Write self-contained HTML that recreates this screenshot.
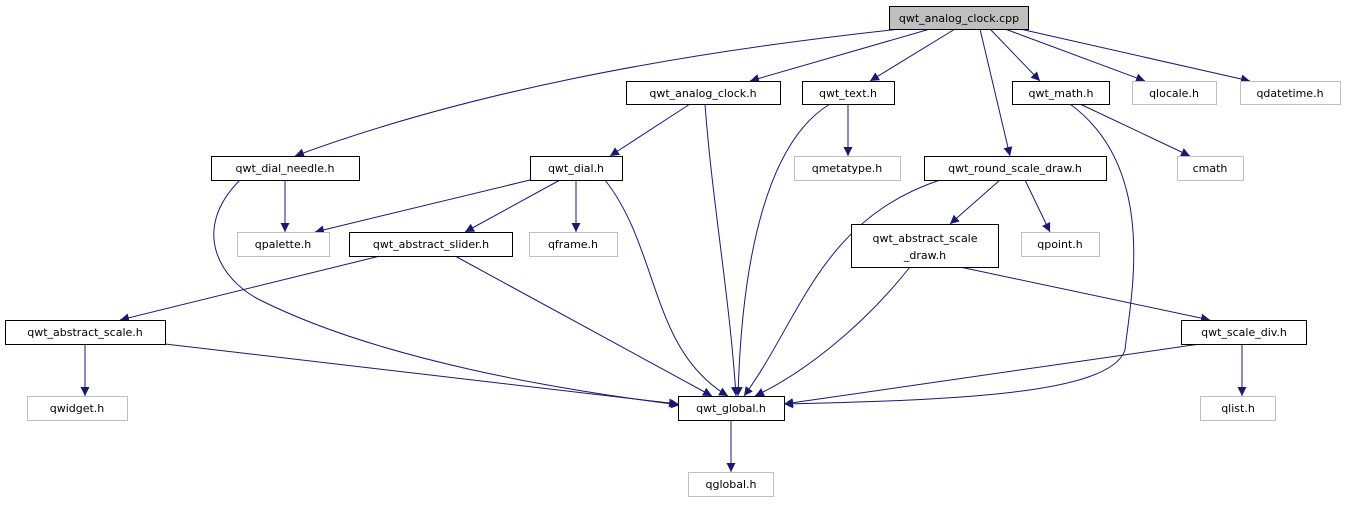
<!DOCTYPE html>
<html><head><meta charset="utf-8"><style>
body{margin:0;background:#fff;width:1347px;height:500px;overflow:hidden}
svg text{font-family:"DejaVu Sans","Liberation Sans",sans-serif;font-size:11px;text-anchor:middle;fill:#000}
</style></head><body>
<svg width="1347" height="500" viewBox="0 0 1347 500">
<defs><marker id="a" viewBox="0 0 10 10" refX="10" refY="5" markerWidth="9" markerHeight="9" markerUnits="userSpaceOnUse" orient="auto"><path d="M0,0L10,5L0,10z" fill="#191970"/></marker></defs>
<g fill="none" stroke="#191970" stroke-width="1" marker-end="url(#a)">
<path d="M900,29 C660,55 460,95 295,156"/>
<path d="M930,29 L750,81"/>
<path d="M955,29 L870,81"/>
<path d="M980,29 L1010,156"/>
<path d="M990,29 L1040,81"/>
<path d="M1005,29 L1145,81"/>
<path d="M1020,29 L1250,81"/>
<path d="M690,104 L610,156"/>
<path d="M705,104 C712,200 730,300 736,396"/>
<path d="M848,104 L848,156"/>
<path d="M830,104 C770,140 742,250 738,396"/>
<path d="M1080,104 L1190,156"/>
<path d="M1070,104 C1160,170 1130,300 1125,350 C1110,395 950,400 784,404"/>
<path d="M285,180 L285,232"/>
<path d="M240,180 C190,230 220,280 260,300 C380,360 560,390 680,405"/>
<path d="M530,180 L315,232"/>
<path d="M560,180 L465,232"/>
<path d="M576,180 L576,232"/>
<path d="M605,180 C660,250 650,350 728,396"/>
<path d="M1000,180 L950,224"/>
<path d="M1025,180 L1050,232"/>
<path d="M940,180 C820,220 800,320 744,396"/>
<path d="M380,256 L120,320"/>
<path d="M455,256 L712,396"/>
<path d="M960,267 L1210,320"/>
<path d="M910,267 C860,330 800,375 755,396"/>
<path d="M85,344 L85,396"/>
<path d="M165,344 L678,404"/>
<path d="M1242,344 L1242,396"/>
<path d="M1200,344 L784,404"/>
<path d="M731,420 L731,472"/>
</g>
<g stroke-width="1">
<rect x="889.5" y="6.5" width="139" height="23" fill="#bfbfbf" stroke="#000"/><text x="959" y="22">qwt_analog_clock.cpp</text>
<rect x="626.5" y="81.5" width="154" height="23" fill="#fff" stroke="#000"/><text x="703" y="97">qwt_analog_clock.h</text>
<rect x="802.5" y="81.5" width="92" height="23" fill="#fff" stroke="#000"/><text x="848" y="97">qwt_text.h</text>
<rect x="1012.5" y="81.5" width="97" height="23" fill="#fff" stroke="#000"/><text x="1061" y="97">qwt_math.h</text>
<rect x="1132.5" y="81.5" width="84" height="23" fill="#fff" stroke="#bfbfbf"/><text x="1174" y="97">qlocale.h</text>
<rect x="1240.5" y="81.5" width="100" height="23" fill="#fff" stroke="#bfbfbf"/><text x="1290" y="97">qdatetime.h</text>
<rect x="211.5" y="156.5" width="148" height="24" fill="#fff" stroke="#000"/><text x="285" y="172">qwt_dial_needle.h</text>
<rect x="530.5" y="156.5" width="92" height="24" fill="#fff" stroke="#000"/><text x="576" y="172">qwt_dial.h</text>
<rect x="794.5" y="156.5" width="106" height="24" fill="#fff" stroke="#bfbfbf"/><text x="847" y="172">qmetatype.h</text>
<rect x="924.5" y="156.5" width="182" height="24" fill="#fff" stroke="#000"/><text x="1015" y="172">qwt_round_scale_draw.h</text>
<rect x="1177.5" y="156.5" width="66" height="24" fill="#fff" stroke="#bfbfbf"/><text x="1210" y="172">cmath</text>
<rect x="237.5" y="232.5" width="92" height="24" fill="#fff" stroke="#bfbfbf"/><text x="283" y="248">qpalette.h</text>
<rect x="349.5" y="232.5" width="163" height="24" fill="#fff" stroke="#000"/><text x="431" y="248">qwt_abstract_slider.h</text>
<rect x="529.5" y="232.5" width="88" height="24" fill="#fff" stroke="#bfbfbf"/><text x="573" y="248">qframe.h</text>
<rect x="851.5" y="224.5" width="147" height="43" fill="#fff" stroke="#000"/><text x="925" y="242">qwt_abstract_scale</text><text x="925" y="259">_draw.h</text>
<rect x="1021.5" y="232.5" width="78" height="24" fill="#fff" stroke="#bfbfbf"/><text x="1060" y="248">qpoint.h</text>
<rect x="5.5" y="320.5" width="160" height="24" fill="#fff" stroke="#000"/><text x="85" y="336">qwt_abstract_scale.h</text>
<rect x="1181.5" y="320.5" width="125" height="24" fill="#fff" stroke="#000"/><text x="1244" y="336">qwt_scale_div.h</text>
<rect x="27.5" y="396.5" width="100" height="24" fill="#fff" stroke="#bfbfbf"/><text x="77" y="412">qwidget.h</text>
<rect x="678.5" y="396.5" width="106" height="24" fill="#fff" stroke="#000"/><text x="731" y="412">qwt_global.h</text>
<rect x="1200.5" y="396.5" width="75" height="24" fill="#fff" stroke="#bfbfbf"/><text x="1238" y="412">qlist.h</text>
<rect x="688.5" y="472.5" width="85" height="24" fill="#fff" stroke="#bfbfbf"/><text x="731" y="488">qglobal.h</text>
</g>
</svg>
</body></html>
